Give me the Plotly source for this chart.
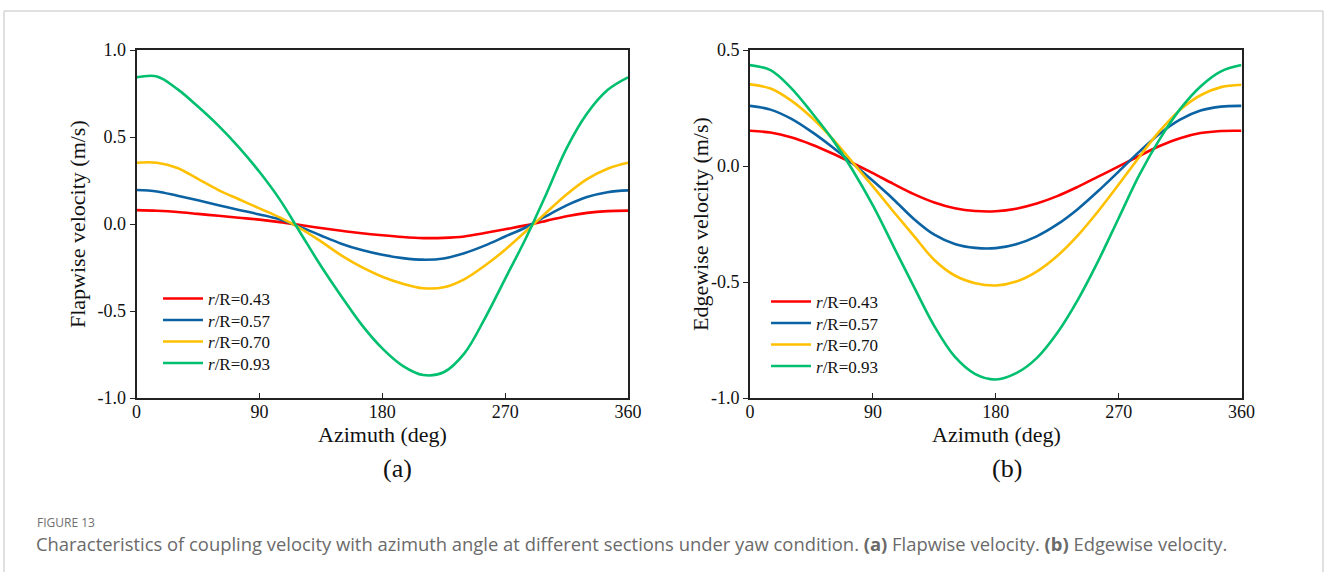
import plotly.graph_objects as go

# ---------------- data ----------------
labels = ["<i>r</i>/R=0.43", "<i>r</i>/R=0.57", "<i>r</i>/R=0.70", "<i>r</i>/R=0.93"]
colors = ["#FF0000", "#0B63A3", "#FFC000", "#00BF6F"]

azimuth = [0, 15, 30, 45, 60, 75, 90, 105, 120, 135, 150, 165, 180,
           195, 210, 225, 240, 255, 270, 285, 300, 315, 330, 345, 360]

# (a) Flapwise velocity (m/s)
flap_r043 = [0.080, 0.076, 0.069, 0.058, 0.047, 0.036, 0.025, 0.011, -0.006, -0.023, -0.039, -0.053, -0.065,
             -0.075, -0.081, -0.080, -0.072, -0.052, -0.030, -0.008, 0.018, 0.045, 0.064, 0.074, 0.077]
flap_r057 = [0.195, 0.187, 0.162, 0.136, 0.108, 0.081, 0.055, 0.026, -0.017, -0.066, -0.113, -0.150, -0.177,
             -0.196, -0.205, -0.198, -0.168, -0.124, -0.072, -0.020, 0.045, 0.107, 0.155, 0.183, 0.193]
flap_r070 = [0.352, 0.352, 0.322, 0.259, 0.195, 0.142, 0.090, 0.038, -0.025, -0.100, -0.180, -0.248, -0.303,
             -0.343, -0.369, -0.364, -0.318, -0.240, -0.148, -0.043, 0.065, 0.170, 0.258, 0.318, 0.352]
flap_r093 = [0.843, 0.848, 0.775, 0.675, 0.565, 0.440, 0.300, 0.140, -0.050, -0.240, -0.415, -0.580, -0.715,
             -0.815, -0.868, -0.852, -0.745, -0.545, -0.315, -0.085, 0.170, 0.435, 0.635, 0.770, 0.843]

# (b) Edgewise velocity (m/s)
edge_r043 = [0.152, 0.144, 0.124, 0.093, 0.055, 0.013, -0.031, -0.077, -0.121, -0.157, -0.182, -0.194, -0.195,
             -0.184, -0.162, -0.130, -0.090, -0.046, -0.002, 0.043, 0.086, 0.120, 0.142, 0.151, 0.152]
edge_r057 = [0.259, 0.243, 0.204, 0.148, 0.083, 0.012, -0.064, -0.143, -0.228, -0.296, -0.336, -0.353, -0.354,
             -0.337, -0.303, -0.252, -0.186, -0.108, -0.024, 0.061, 0.139, 0.200, 0.239, 0.256, 0.259]
edge_r070 = [0.352, 0.334, 0.283, 0.210, 0.120, 0.017, -0.088, -0.196, -0.301, -0.405, -0.472, -0.505, -0.515,
             -0.498, -0.455, -0.388, -0.300, -0.195, -0.080, 0.038, 0.150, 0.242, 0.305, 0.340, 0.350]
edge_r093 = [0.435, 0.413, 0.337, 0.232, 0.118, -0.016, -0.170, -0.345, -0.520, -0.690, -0.822, -0.897, -0.920,
             -0.893, -0.828, -0.720, -0.578, -0.410, -0.225, -0.040, 0.115, 0.245, 0.343, 0.408, 0.435]

x_ticks = [0, 90, 180, 270, 360]
x_ticktext = ["0", "90", "180", "270", "360"]
flap_ticks = [1.0, 0.5, 0.0, -0.5, -1.0]
flap_ticktext = ["1.0", "0.5", "0.0", "-0.5", "-1.0"]
edge_ticks = [0.5, 0.0, -0.5, -1.0]
edge_ticktext = ["0.5", "0.0", "-0.5", "-1.0"]

flap_series = [flap_r043, flap_r057, flap_r070, flap_r093]
edge_series = [edge_r043, edge_r057, edge_r070, edge_r093]

# ---------------- figure ----------------
W, H = 1328, 572
SERIF = "Liberation Serif"


def px(x):
    return x / W


def py(y):
    return 1 - y / H


fig = go.Figure()

# one small legend per entry so that the row spacing matches the original
flap_leg_rows = [300, 321.5, 343, 364.5]
edge_leg_rows = [303, 324.5, 346, 367.5]
legend_layout = {}
for i, (ys, lab, col) in enumerate(zip(flap_series, labels, colors)):
    lname = "legend" if i == 0 else f"legend{i + 1}"
    fig.add_trace(go.Scatter(x=azimuth, y=ys, mode="lines", name=lab,
                             line=dict(color=col, width=2.6, shape="spline", smoothing=1.0),
                             xaxis="x", yaxis="y", legend=lname))
    legend_layout[lname] = dict(x=px(158), y=py(flap_leg_rows[i] - 19), xanchor="left", yanchor="top",
                                bgcolor="rgba(0,0,0,0)", borderwidth=0, itemwidth=40,
                                font=dict(family=SERIF, size=17, color="#111111"))
for i, (ys, lab, col) in enumerate(zip(edge_series, labels, colors)):
    lname = f"legend{i + 5}"
    fig.add_trace(go.Scatter(x=azimuth, y=ys, mode="lines", name=lab,
                             line=dict(color=col, width=2.6, shape="spline", smoothing=1.0),
                             xaxis="x2", yaxis="y2", legend=lname))
    legend_layout[lname] = dict(x=px(766), y=py(edge_leg_rows[i] - 19), xanchor="left", yanchor="top",
                                bgcolor="rgba(0,0,0,0)", borderwidth=0, itemwidth=40,
                                font=dict(family=SERIF, size=17, color="#111111"))

ydom = [py(398), py(50)]
axis_common = dict(showline=True, linecolor="#222222", linewidth=1.6, mirror=True, automargin=False,
                   showgrid=False, zeroline=False, ticklen=5, tickwidth=1.4, tickcolor="#222222",
                   tickfont=dict(family=SERIF, size=18, color="#111111"))

fig.update_layout(
    template="none",
    width=W, height=H,
    margin=dict(l=0, r=0, t=0, b=0, pad=0, autoexpand=False),
    paper_bgcolor="white", plot_bgcolor="white",
    xaxis=dict(domain=[px(136.5), px(628)], range=[0, 360], tickvals=x_ticks, ticktext=x_ticktext,
               ticks="inside", anchor="y", ticklabelstandoff=-3, **axis_common),
    yaxis=dict(domain=ydom, range=[-1.0, 1.0], tickvals=flap_ticks, ticktext=flap_ticktext,
               ticks="outside", anchor="x", **axis_common),
    xaxis2=dict(domain=[px(750), px(1241.5)], range=[0, 360], tickvals=x_ticks, ticktext=x_ticktext,
                ticks="inside", anchor="y2", ticklabelstandoff=-3, **axis_common),
    yaxis2=dict(domain=ydom, range=[-1.0, 0.5], tickvals=edge_ticks, ticktext=edge_ticktext,
                ticks="outside", anchor="x2", **axis_common),
    showlegend=True,
    **legend_layout,
)

ann = []
title_font = dict(family=SERIF, size=22, color="#111111")
ann.append(dict(text="Azimuth (deg)", x=px(382), y=py(434), xref="paper", yref="paper",
                showarrow=False, xanchor="center", yanchor="middle", font=title_font))
ann.append(dict(text="Azimuth (deg)", x=px(996), y=py(434), xref="paper", yref="paper",
                showarrow=False, xanchor="center", yanchor="middle", font=title_font))
ann.append(dict(text="Flapwise velocity (m/s)", x=px(77), y=py(224), xref="paper", yref="paper",
                showarrow=False, xanchor="center", yanchor="middle", textangle=-90, font=title_font))
ann.append(dict(text="Edgewise velocity (m/s)", x=px(700), y=py(224), xref="paper", yref="paper",
                showarrow=False, xanchor="center", yanchor="middle", textangle=-90, font=title_font))
ann.append(dict(text="(a)", x=px(397), y=py(468), xref="paper", yref="paper",
                showarrow=False, xanchor="center", yanchor="middle",
                font=dict(family=SERIF, size=26, color="#111111")))
ann.append(dict(text="(b)", x=px(1007), y=py(468), xref="paper", yref="paper",
                showarrow=False, xanchor="center", yanchor="middle",
                font=dict(family=SERIF, size=26, color="#111111")))
ann.append(dict(text="FIGURE 13", x=px(35), y=py(522), xref="paper", yref="paper",
                showarrow=False, xanchor="left", yanchor="middle",
                font=dict(family="Open Sans", size=12, color="#707070")))
ann.append(dict(text="Characteristics of coupling velocity with azimuth angle at different sections under yaw condition. "
                     "<b>(a)</b> Flapwise velocity. <b>(b)</b> Edgewise velocity.",
                x=px(34), y=py(543), xref="paper", yref="paper",
                showarrow=False, xanchor="left", yanchor="middle",
                font=dict(family="Open Sans", size=18.4, color="#6a6a6a")))
fig.update_layout(annotations=ann)

# card border of the page
border = dict(color="#d6d6d6", width=1.5)
fig.add_shape(type="line", xref="paper", yref="paper", x0=px(4), x1=px(1323), y0=py(11), y1=py(11), line=border)
fig.add_shape(type="line", xref="paper", yref="paper", x0=px(4), x1=px(4), y0=py(11), y1=0, line=border)
fig.add_shape(type="line", xref="paper", yref="paper", x0=px(1323), x1=px(1323), y0=py(11), y1=0, line=border)

fig.write_html("out.html",
               post_script="document.body.style.margin='0';document.body.style.overflow='hidden';")
